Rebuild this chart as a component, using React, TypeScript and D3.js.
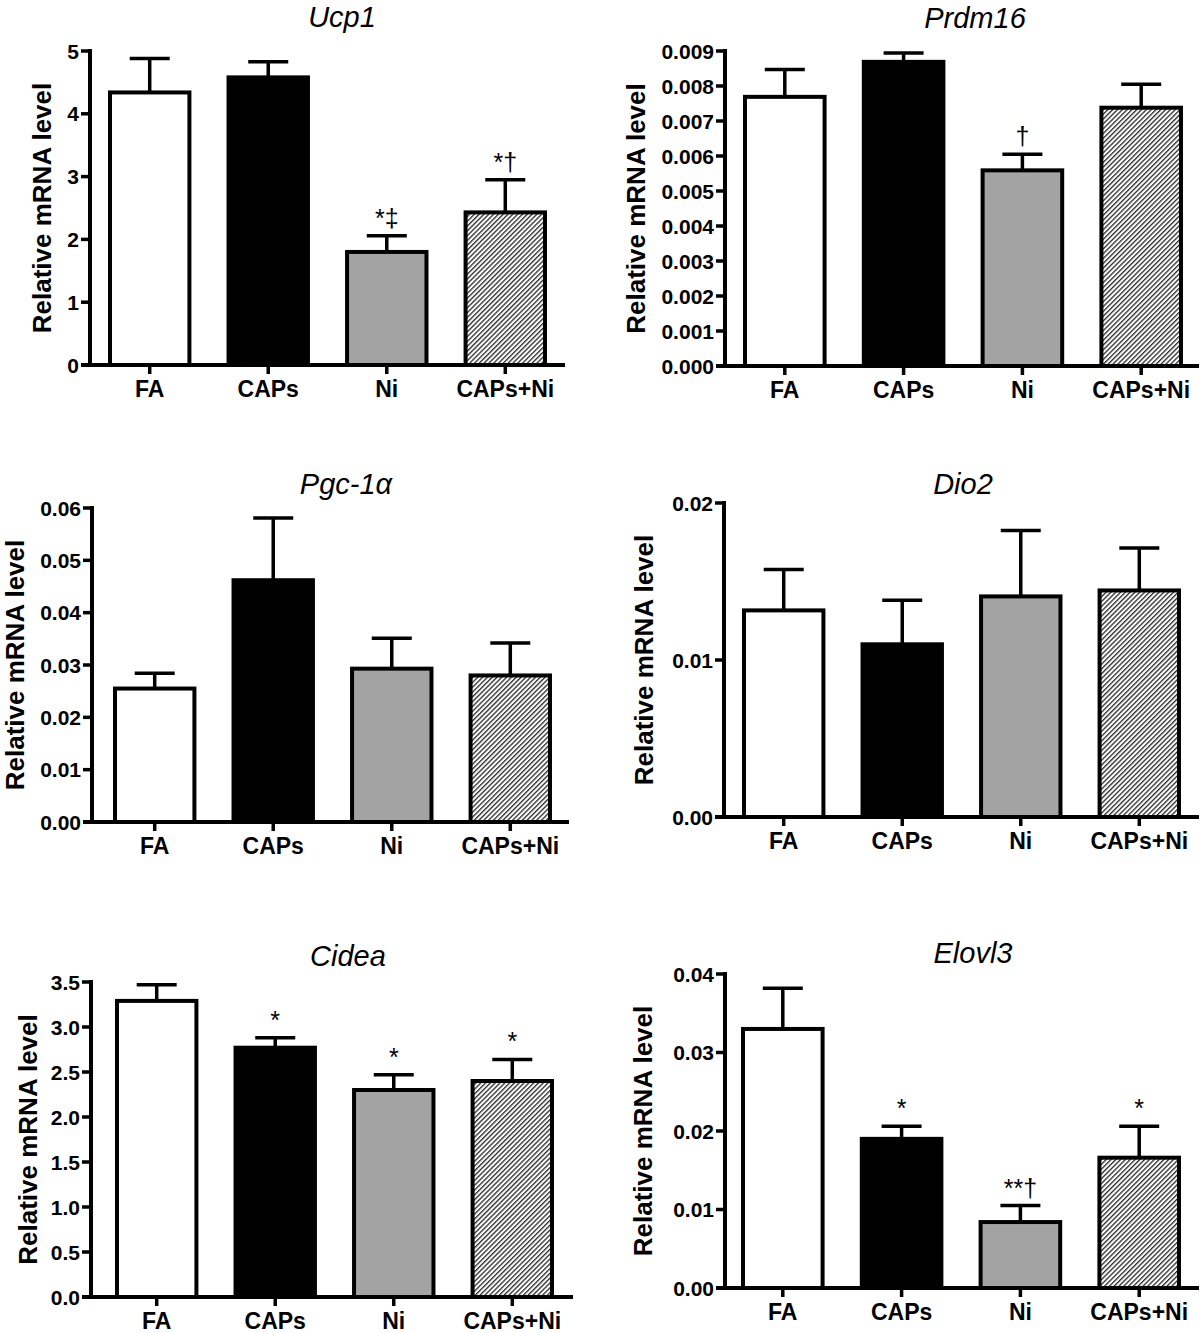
import React from "react";
import * as d3 from "d3";

const categories = ["FA", "CAPs", "Ni", "CAPs+Ni"];
const barFills = ["#ffffff", "#000000", "#a3a3a3", "url(#hatch)"];

const ucp1Mean = [4.34, 4.58, 1.8, 2.43];
const ucp1Sem = [0.54, 0.25, 0.26, 0.52];
const ucp1Marks = ["", "", "*‡", "*†"];
const ucp1Ticks = [0, 1, 2, 3, 4, 5];

const prdm16Mean = [0.00769, 0.00869, 0.00559, 0.00738];
const prdm16Sem = [0.00078, 0.00025, 0.00046, 0.00067];
const prdm16Marks = ["", "", "†", ""];
const prdm16Ticks = [0, 0.001, 0.002, 0.003, 0.004, 0.005, 0.006, 0.007, 0.008, 0.009];

const pgc1aMean = [0.0255, 0.0462, 0.0293, 0.028];
const pgc1aSem = [0.0029, 0.0119, 0.0058, 0.0062];
const pgc1aMarks = ["", "", "", ""];
const pgc1aTicks = [0, 0.01, 0.02, 0.03, 0.04, 0.05, 0.06];

const dio2Mean = [0.01316, 0.011, 0.01405, 0.01443];
const dio2Sem = [0.0026, 0.0028, 0.0042, 0.0027];
const dio2Marks = ["", "", "", ""];
const dio2Ticks = [0, 0.01, 0.02];

const cideaMean = [3.29, 2.77, 2.3, 2.4];
const cideaSem = [0.18, 0.11, 0.17, 0.24];
const cideaMarks = ["", "*", "*", "*"];
const cideaTicks = [0, 0.5, 1.0, 1.5, 2.0, 2.5, 3.0, 3.5];

const elovl3Mean = [0.033, 0.019, 0.0084, 0.0166];
const elovl3Sem = [0.0052, 0.0016, 0.0021, 0.004];
const elovl3Marks = ["", "*", "**†", "*"];
const elovl3Ticks = [0, 0.01, 0.02, 0.03, 0.04];

const panels = [
  { title: "Ucp1", mean: ucp1Mean, sem: ucp1Sem, marks: ucp1Marks, ticks: ucp1Ticks, fmt: "d",
    L: { axisX: 90, yTop: 51, yZero: 365, b0: 110, b1: 545, xEnd: 565, tx: 342, ty: 27, lx: 42 } },
  { title: "Prdm16", mean: prdm16Mean, sem: prdm16Sem, marks: prdm16Marks, ticks: prdm16Ticks, fmt: ".3f",
    L: { axisX: 725, yTop: 51, yZero: 366, b0: 745, b1: 1181, xEnd: 1199, tx: 975, ty: 28, lx: 636 } },
  { title: "Pgc-1α", mean: pgc1aMean, sem: pgc1aSem, marks: pgc1aMarks, ticks: pgc1aTicks, fmt: ".2f",
    L: { axisX: 92, yTop: 508, yZero: 822, b0: 115, b1: 550, xEnd: 569, tx: 346, ty: 494, lx: 15 } },
  { title: "Dio2", mean: dio2Mean, sem: dio2Sem, marks: dio2Marks, ticks: dio2Ticks, fmt: ".2f",
    L: { axisX: 724, yTop: 503, yZero: 817, b0: 744, b1: 1179, xEnd: 1199, tx: 963, ty: 494, lx: 644 } },
  { title: "Cidea", mean: cideaMean, sem: cideaSem, marks: cideaMarks, ticks: cideaTicks, fmt: ".1f",
    L: { axisX: 91, yTop: 982, yZero: 1297, b0: 117, b1: 552, xEnd: 573, tx: 348, ty: 966, lx: 28 } },
  { title: "Elovl3", mean: elovl3Mean, sem: elovl3Sem, marks: elovl3Marks, ticks: elovl3Ticks, fmt: ".2f",
    L: { axisX: 725, yTop: 974, yZero: 1288, b0: 743, b1: 1179, xEnd: 1199, tx: 973, ty: 963, lx: 643 } },
];

const FONT = "'Liberation Sans', Arial, Helvetica, sans-serif";

function Panel({ p }: { p: any }) {
  const L = p.L;
  const maxTick = p.ticks[p.ticks.length - 1];
  const y = d3.scaleLinear().domain([0, maxTick]).range([L.yZero, L.yTop]);
  const x = d3.scaleBand<string>().domain(categories).range([L.b0, L.b1]).paddingInner(0.33).paddingOuter(0);
  const fmt = d3.format(p.fmt);
  const bw = x.bandwidth();
  const capHalf = 20;
  return (
    <g>
      <text x={L.tx} y={L.ty} textAnchor="middle" fontStyle="italic" fontSize={29} fontFamily={FONT} fill="#000">
        {p.title}
      </text>
      <text
        transform={`translate(${L.lx},${(L.yTop + L.yZero) / 2}) rotate(-90)`}
        textAnchor="middle"
        dy="0.36em"
        fontWeight="bold"
        fontSize={26}
        fontFamily={FONT}
        fill="#000"
      >
        Relative mRNA level
      </text>
      {categories.map((c, i) => {
        const cx = (x(c) as number) + bw / 2;
        const top = y(p.mean[i] + p.sem[i]);
        return (
          <g key={"e" + c}>
            <line x1={cx} x2={cx} y1={y(p.mean[i])} y2={top} stroke="#000" strokeWidth={3.5} />
            <line x1={cx - capHalf} x2={cx + capHalf} y1={top} y2={top} stroke="#000" strokeWidth={3.5} />
          </g>
        );
      })}
      {categories.map((c, i) => (
        <rect
          key={"b" + c}
          x={x(c) as number}
          y={y(p.mean[i])}
          width={bw}
          height={L.yZero - y(p.mean[i])}
          fill={barFills[i]}
          stroke="#000"
          strokeWidth={4}
        />
      ))}
      {categories.map((c, i) =>
        p.marks[i] ? (
          <text
            key={"m" + c}
            x={(x(c) as number) + bw / 2}
            y={y(p.mean[i] + p.sem[i]) - 9}
            textAnchor="middle"
            fontSize={25}
            fontFamily={FONT}
            fill="#000"
          >
            {p.marks[i]}
          </text>
        ) : null
      )}
      <line x1={L.axisX} x2={L.axisX} y1={L.yTop - 2} y2={L.yZero} stroke="#000" strokeWidth={4} />
      {p.ticks.map((t: number) => (
        <g key={"t" + t}>
          <line x1={L.axisX - 9} x2={L.axisX} y1={y(t)} y2={y(t)} stroke="#000" strokeWidth={3.5} />
          <text
            x={L.axisX - 11}
            y={y(t)}
            dy="0.36em"
            textAnchor="end"
            fontWeight="bold"
            fontSize={21}
            fontFamily={FONT}
            fill="#000"
          >
            {fmt(t)}
          </text>
        </g>
      ))}
      <line x1={L.axisX - 9} x2={L.xEnd} y1={L.yZero} y2={L.yZero} stroke="#000" strokeWidth={4} />
      {categories.map((c) => {
        const cx = (x(c) as number) + bw / 2;
        return (
          <g key={"c" + c}>
            <line x1={cx} x2={cx} y1={L.yZero} y2={L.yZero + 9} stroke="#000" strokeWidth={3.5} />
            <text x={cx} y={L.yZero + 32} textAnchor="middle" fontWeight="bold" fontSize={23} fontFamily={FONT} fill="#000">
              {c}
            </text>
          </g>
        );
      })}
    </g>
  );
}

export default function App() {
  return (
    <svg
      width={1200}
      height={1333}
      viewBox="0 0 1200 1333"
      style={{ position: "absolute", left: 0, top: 0, background: "#fff" }}
    >
      <defs>
        <pattern id="hatch" patternUnits="userSpaceOnUse" width={3.4} height={10} patternTransform="rotate(45)">
          <rect width={3.4} height={10} fill="#fff" />
          <line x1={0.7} y1={0} x2={0.7} y2={10} stroke="#000" strokeWidth={1.1} />
        </pattern>
      </defs>
      <rect width={1200} height={1333} fill="#fff" />
      {panels.map((p) => (
        <Panel key={p.title} p={p} />
      ))}
    </svg>
  );
}
